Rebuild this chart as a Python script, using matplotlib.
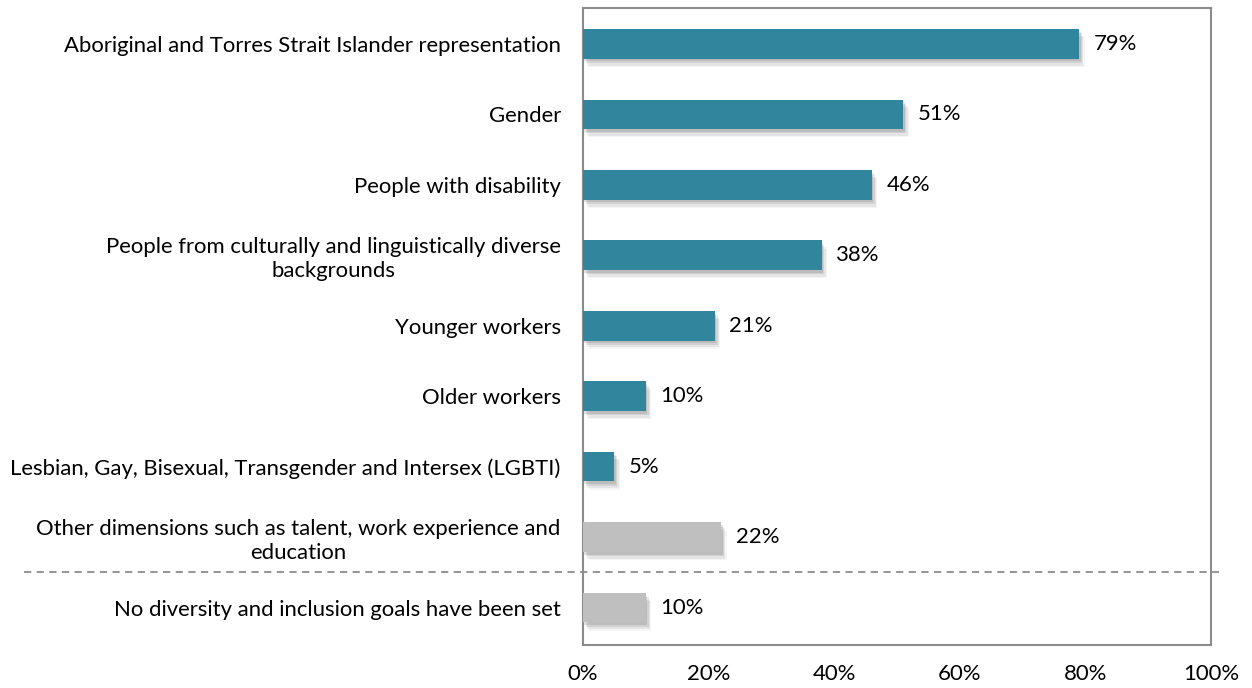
import matplotlib.pyplot as plt
import matplotlib.patheffects as pe
from matplotlib.transforms import blended_transform_factory

plt.rcParams['font.family'] = ['Lato', 'DejaVu Sans']

categories = [
    "Aboriginal and Torres Strait Islander representation",
    "Gender",
    "People with disability",
    "People from culturally and linguistically diverse\nbackgrounds",
    "Younger workers",
    "Older workers",
    "Lesbian, Gay, Bisexual, Transgender and Intersex (LGBTI)",
    "Other dimensions such as talent, work experience and\neducation",
    "No diversity and inclusion goals have been set",
]
values = [79, 51, 46, 38, 21, 10, 5, 22, 10]
is_group = [True, True, True, True, True, True, True, False, False]
xticks = [0, 20, 40, 60, 80, 100]

teal = '#31869e'
grey = '#bfbfbf'
colors = [teal if g else grey for g in is_group]
fs = 15.9

fig = plt.figure(figsize=(12.52, 6.88), dpi=100)
ax = fig.add_axes([0.4657, 0.0625, 0.5016, 0.926])

ypos = list(range(len(categories)))
bars = ax.barh(ypos, values, height=0.42, color=colors, zorder=3)
# soft drop shadow built from a few offset, faint copies
shadow = [pe.SimplePatchShadow(offset=(dx, -dy), shadow_rgbFace='#606060', alpha=a)
          for dx, dy, a in [(1, 2, 0.18), (2, 3, 0.15), (3, 5, 0.1), (4, 6, 0.06)]]
for b in bars:
    b.set_path_effects(shadow + [pe.Normal()])

for y, v in zip(ypos, values):
    ax.text(v + 2.3, y, f"{v}%", va='center', ha='left', fontsize=fs, color='black')

ax.set_xlim(0, 100)
ax.set_ylim(len(categories) - 0.47, -0.51)
ax.set_xticks(xticks)
ax.set_xticklabels([f"{t}%" for t in xticks], fontsize=fs)
ax.set_yticks(ypos)
ax.set_yticklabels(categories, fontsize=fs, multialignment='center', linespacing=1.22)
ax.tick_params(axis='both', length=0)
ax.tick_params(axis='y', pad=16)
ax.tick_params(axis='x', pad=14)

for s in ax.spines.values():
    s.set_color('#8c8c8c')
    s.set_linewidth(1.5)

# separator between the groups and the "no goals" row
trans = blended_transform_factory(ax.transAxes, ax.transData)
ax.plot([-0.89, 1.013], [7.5, 7.5], transform=trans, clip_on=False,
        color='#8c8c8c', linestyle=(0, (4, 3)), linewidth=1.3, zorder=4)

fig.savefig('out.png', dpi=100)
